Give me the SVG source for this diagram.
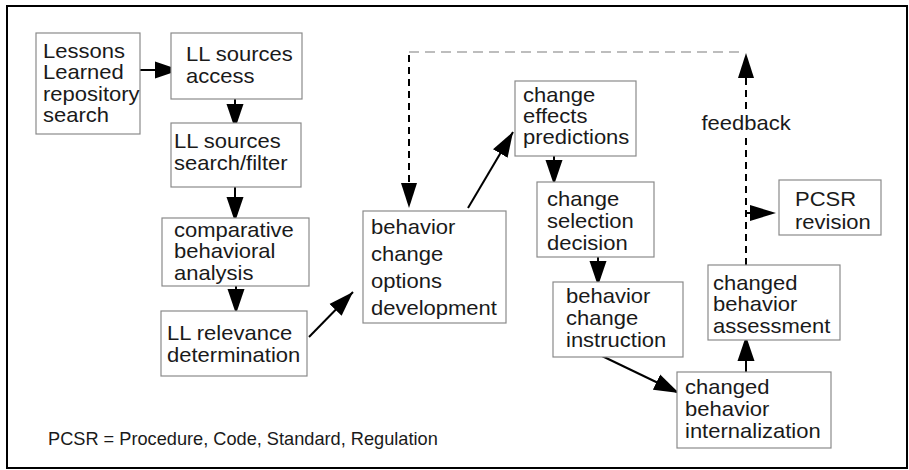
<svg xmlns="http://www.w3.org/2000/svg" width="909" height="470" viewBox="0 0 909 470">
<style>
.box{fill:#fff;stroke:#8a8a8a;stroke-width:1.2}
.t{font-family:"Liberation Sans",Arial,sans-serif;font-size:20px;fill:#1a1a1a}
.foot{font-family:"Liberation Sans",Arial,sans-serif;font-size:18.2px;fill:#1a1a1a}
.arr{stroke:#000;stroke-width:2;fill:none;marker-end:url(#ah)}
.dash{stroke:#000;stroke-width:2;fill:none;stroke-dasharray:7 5}
.gdash{stroke:#bdbdbd;stroke-width:2;fill:none;stroke-dasharray:10 6}
</style>
<defs>
<marker id="ah" markerUnits="userSpaceOnUse" markerWidth="28" markerHeight="18" refX="25" refY="9" orient="auto">
<path d="M0,0.5 L25,9 L0,17.5 Z" fill="#000"/>
</marker>
</defs>
<rect x="0" y="0" width="909" height="470" fill="#fff"/>
<rect x="7" y="6" width="900" height="462" fill="none" stroke="#000" stroke-width="2"/>

<g id="connectors">
<line class="arr" x1="140" y1="70" x2="180" y2="70"/>
<line class="arr" x1="235" y1="99" x2="235" y2="129"/>
<line class="arr" x1="235" y1="187" x2="235" y2="222"/>
<line class="arr" x1="236" y1="286" x2="236" y2="314"/>
<line class="arr" x1="309" y1="337" x2="353" y2="292"/>
<line class="arr" x1="468" y1="208" x2="513" y2="132"/>
<line class="arr" x1="554" y1="156" x2="554" y2="185"/>
<line class="arr" x1="598" y1="257" x2="598" y2="286"/>
<line class="arr" x1="602" y1="356" x2="679" y2="393"/>
<line class="arr" x1="746" y1="372" x2="746" y2="336"/>
<line class="gdash" x1="409" y1="52" x2="740" y2="52"/>
<line class="dash" x1="409" y1="55" x2="409" y2="190"/>
<path d="M401,183 L409,208 L417,183 Z" fill="#000"/>
<line class="dash" x1="746" y1="265" x2="746" y2="72"/>
<path d="M738,78 L746,53 L754,78 Z" fill="#000"/>
<path d="M750,205 L776,213 L750,221 Z" fill="#000"/>
<line x1="745" y1="213" x2="751" y2="213" stroke="#000" stroke-width="2"/>
</g>

<g id="n1">
<rect class="box" x="36" y="33" width="104" height="101"/>
<text class="t" transform="translate(43 58) scale(1.1 1)"><tspan x="0" y="0">Lessons</tspan><tspan x="0" y="21.5">Learned</tspan><tspan x="0" y="43">repository</tspan><tspan x="0" y="64.5">search</tspan></text>
</g>
<g id="n2">
<rect class="box" x="171" y="33" width="131" height="66"/>
<text class="t" transform="translate(186 61) scale(1.1 1)"><tspan x="0" y="0">LL sources</tspan><tspan x="0" y="22">access</tspan></text>
</g>
<g id="n3">
<rect class="box" x="171" y="123" width="130" height="64"/>
<text class="t" transform="translate(174 148) scale(1.1 1)"><tspan x="0" y="0">LL sources</tspan><tspan x="0" y="22">search/filter</tspan></text>
</g>
<g id="n4">
<rect class="box" x="162" y="218" width="147" height="68"/>
<text class="t" transform="translate(174 237) scale(1.1 1)"><tspan x="0" y="0">comparative</tspan><tspan x="0" y="21.5">behavioral</tspan><tspan x="0" y="43">analysis</tspan></text>
</g>
<g id="n5">
<rect class="box" x="161" y="311" width="146" height="65"/>
<text class="t" transform="translate(167 340) scale(1.1 1)"><tspan x="0" y="0">LL relevance</tspan><tspan x="0" y="22">determination</tspan></text>
</g>
<g id="n6">
<rect class="box" x="363" y="211" width="143" height="112"/>
<text class="t" transform="translate(371 234) scale(1.1 1)"><tspan x="0" y="0">behavior</tspan><tspan x="0" y="27">change</tspan><tspan x="0" y="54">options</tspan><tspan x="0" y="81">development</tspan></text>
</g>
<g id="n7">
<rect class="box" x="515" y="81" width="121" height="75"/>
<text class="t" transform="translate(523 102) scale(1.1 1)"><tspan x="0" y="0">change</tspan><tspan x="0" y="21">effects</tspan><tspan x="0" y="42">predictions</tspan></text>
</g>
<g id="n8">
<rect class="box" x="537" y="182" width="117" height="75"/>
<text class="t" transform="translate(547 206) scale(1.1 1)"><tspan x="0" y="0">change</tspan><tspan x="0" y="22">selection</tspan><tspan x="0" y="44">decision</tspan></text>
</g>
<g id="n9">
<rect class="box" x="553" y="282" width="130" height="75"/>
<text class="t" transform="translate(566 303) scale(1.1 1)"><tspan x="0" y="0">behavior</tspan><tspan x="0" y="22">change</tspan><tspan x="0" y="44">instruction</tspan></text>
</g>
<g id="n10">
<rect class="box" x="677" y="372" width="154" height="76"/>
<text class="t" transform="translate(685 394) scale(1.1 1)"><tspan x="0" y="0">changed</tspan><tspan x="0" y="22">behavior</tspan><tspan x="0" y="44">internalization</tspan></text>
</g>
<g id="n11">
<rect class="box" x="708" y="265" width="132" height="75"/>
<text class="t" transform="translate(713 290) scale(1.1 1)"><tspan x="0" y="0">changed</tspan><tspan x="0" y="21.5">behavior</tspan><tspan x="0" y="43">assessment</tspan></text>
</g>
<g id="n12">
<rect class="box" x="779" y="180" width="102" height="55"/>
<text class="t" transform="translate(795 206) scale(1.1 1)"><tspan x="0" y="0">PCSR</tspan><tspan x="0" y="23">revision</tspan></text>
</g>

<rect x="700" y="111" width="92" height="24" fill="#fff"/>
<text class="t" text-anchor="middle" transform="translate(746 130) scale(1.1 1)" x="0" y="0">feedback</text>
<text class="foot" x="48" y="445">PCSR = Procedure, Code, Standard, Regulation</text>
</svg>
